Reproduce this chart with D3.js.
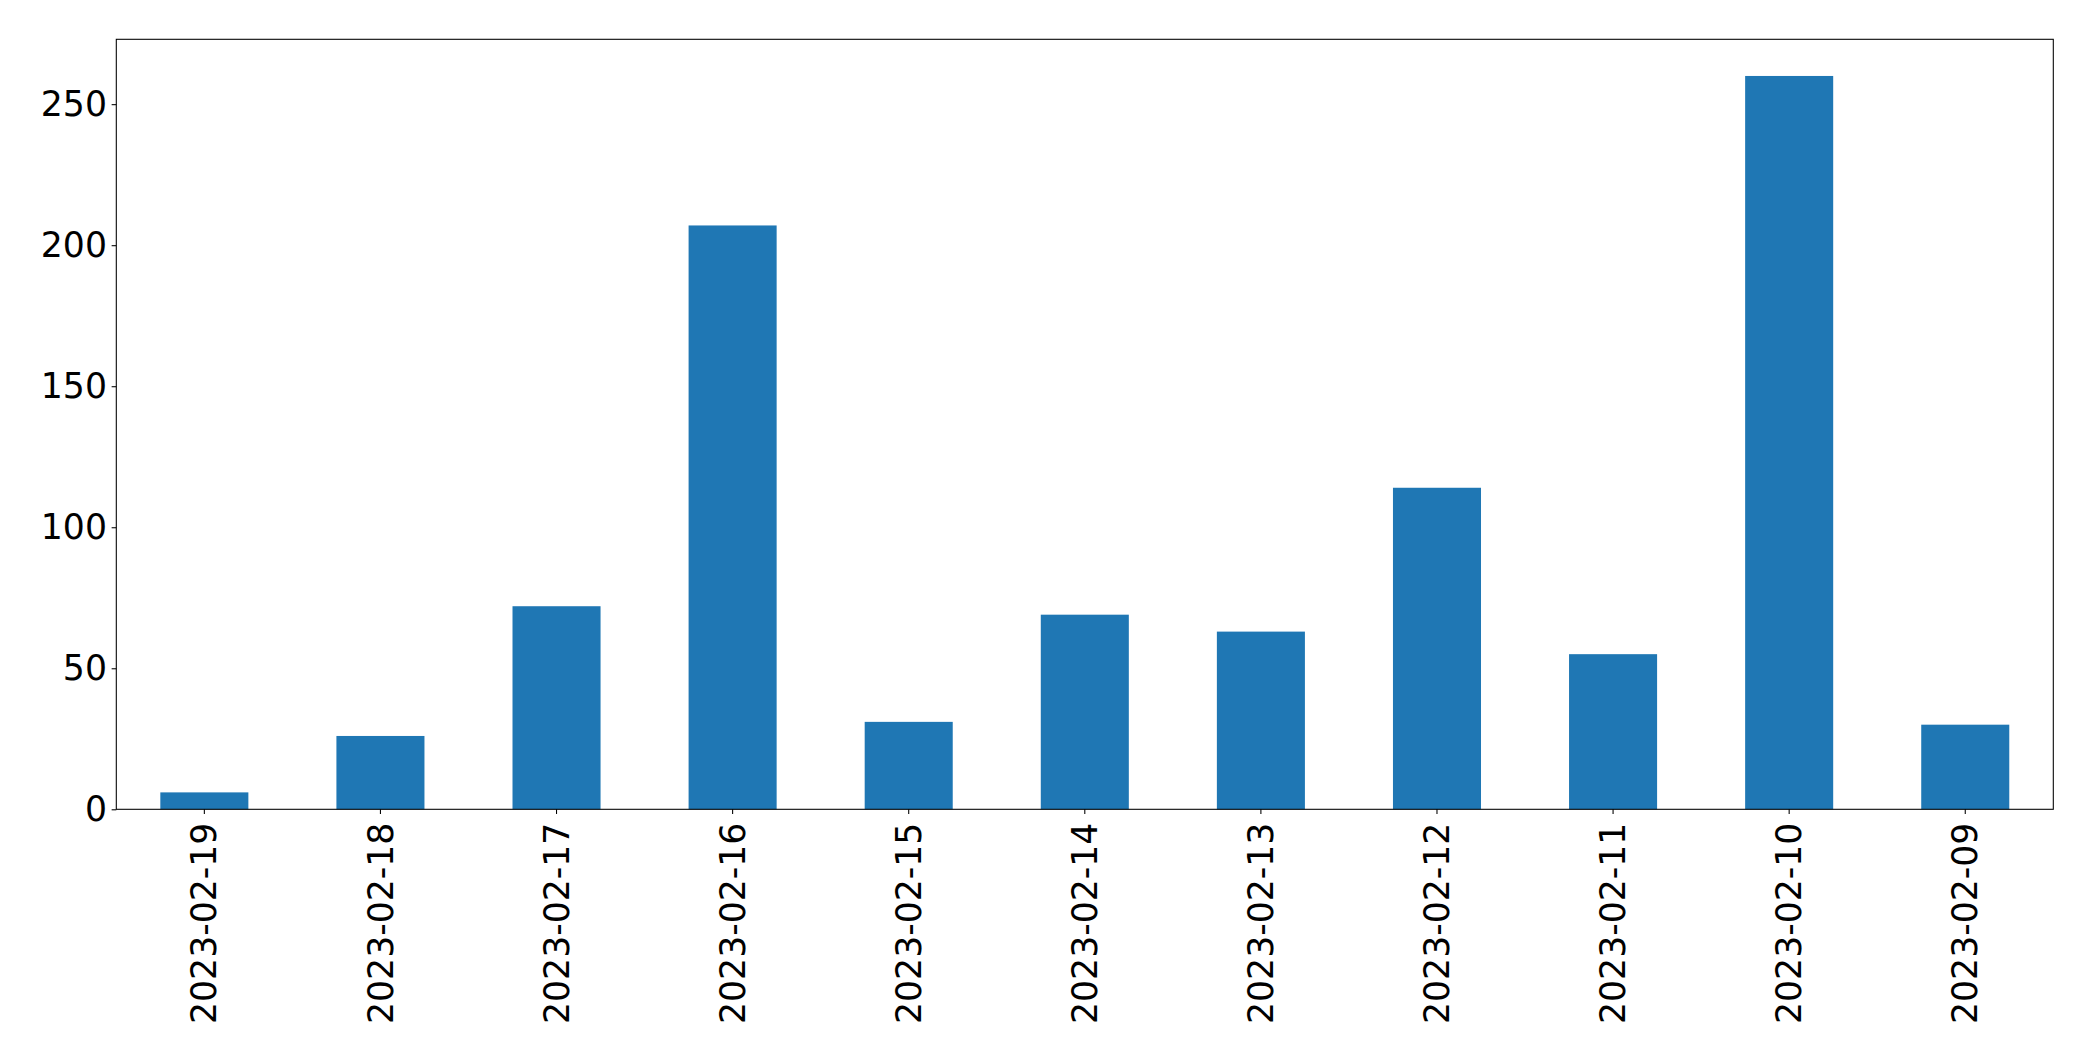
<!DOCTYPE html>
<html>
<head>
<meta charset="utf-8">
<script src="https://cdn.jsdelivr.net/npm/d3@7"></script>
<style>
html, body { margin: 0; padding: 0; background: #fff; }
svg { display: block; }
</style>
</head>
<body>
<script>
const categories = ["2023-02-19","2023-02-18","2023-02-17","2023-02-16","2023-02-15","2023-02-14","2023-02-13","2023-02-12","2023-02-11","2023-02-10","2023-02-09"];
const values = [6, 26, 72, 207, 31, 69, 63, 114, 55, 260, 30];
const yTicks = [0, 50, 100, 150, 200, 250];

const W = 2093, H = 1061;
const margin = {left: 116.3, right: W - 2053.3, top: 39.3, bottom: H - 809.3};
const fontSize = 34.67;

const svg = d3.select("body").append("svg").attr("width", W).attr("height", H);

const x = d3.scaleBand().domain(categories)
  .range([margin.left, W - margin.right])
  .paddingInner(0.5).paddingOuter(0.25);
const y = d3.scaleLinear().domain([0, 273]).range([H - margin.bottom, margin.top]);

svg.append("g").selectAll("rect").data(values).join("rect")
  .attr("x", (d, i) => x(categories[i]))
  .attr("width", x.bandwidth())
  .attr("y", d => y(d))
  .attr("height", d => y(0) - y(d))
  .attr("fill", "#1f77b4");

const yAxis = svg.append("g").attr("transform", `translate(${margin.left},0)`)
  .call(d3.axisLeft(y).tickValues(yTicks).tickSize(4.67).tickPadding(4.67).tickFormat(d3.format("d")));
const xAxis = svg.append("g").attr("transform", `translate(0,${H - margin.bottom})`)
  .call(d3.axisBottom(x).tickSize(4.67).tickPadding(4.67));

[yAxis, xAxis].forEach(g => {
  g.select(".domain").remove();
  g.selectAll(".tick line").attr("stroke", "#000").attr("stroke-width", 1.07);
  g.selectAll("text").attr("fill", "#000")
    .style("font-family", "'DejaVu Sans', sans-serif").style("font-size", fontSize + "px");
});

xAxis.selectAll("text")
  .attr("transform", "rotate(-90)")
  .attr("text-anchor", "end")
  .attr("x", -13.3)
  .attr("y", 0)
  .attr("dy", "0.35em");

// frame
svg.append("rect")
  .attr("x", margin.left).attr("y", margin.top)
  .attr("width", W - margin.left - margin.right)
  .attr("height", H - margin.top - margin.bottom)
  .attr("fill", "none").attr("stroke", "#000").attr("stroke-width", 1.07);
</script>
</body>
</html>
